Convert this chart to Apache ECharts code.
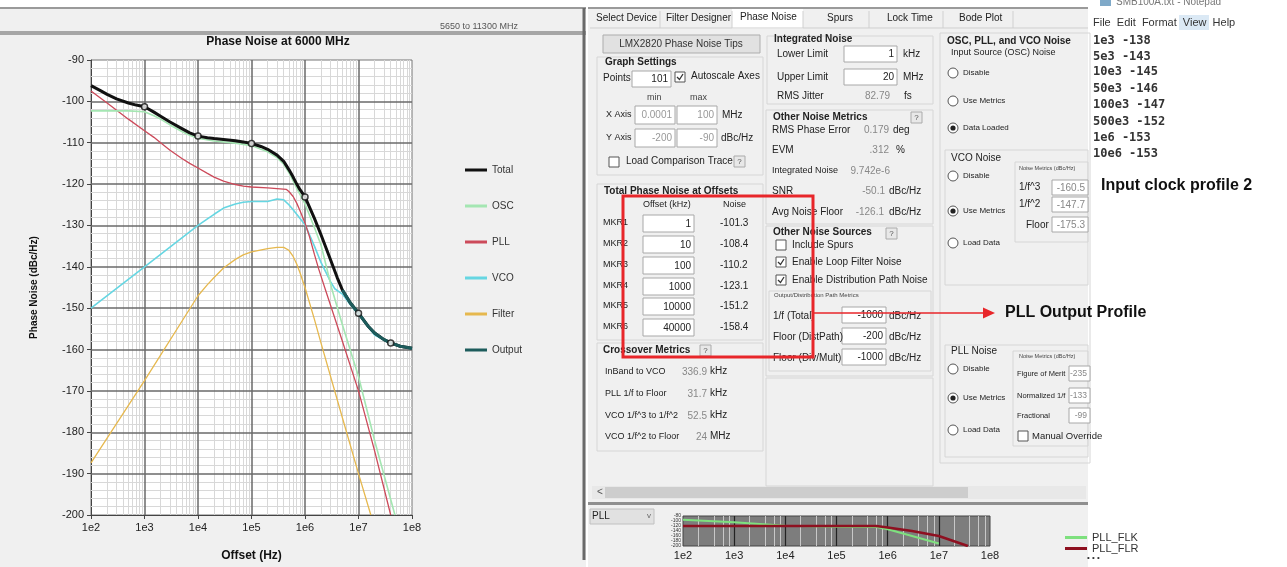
<!DOCTYPE html>
<html><head><meta charset="utf-8">
<script src="https://cdn.jsdelivr.net/npm/echarts@6/dist/echarts.min.js"></script>
<style>html,body{margin:0;padding:0;background:#fff}#c{width:1287px;height:567px}</style>
</head><body><div id="c"></div><script>
// ---------------- data ----------------
const legendNames = ['Total','OSC','PLL','VCO','Filter','Output'];

const totalFreq = [100,150,200,300,500,700,1e3,1.5e3,2e3,3e3,5e3,7e3,1e4,1.5e4,2e4,3e4,5e4,7e4,1e5,1.5e5,2e5,3e5,4e5,5e5,6e5,7e5,8e5,1e6,1.5e6,2e6,3e6,4e6,5e6,7e6,1e7,1.5e7,2e7,3e7,4e7,6e7,1e8];
const totalDb   = [-96.2,-97.4,-98.3,-99.4,-100.4,-100.9,-101.3,-102.6,-103.6,-105.0,-106.6,-107.6,-108.4,-108.8,-109.0,-109.2,-109.5,-109.8,-110.2,-110.9,-111.6,-113.0,-114.5,-116.5,-118.3,-120.0,-121.3,-123.1,-128.3,-132.3,-138.3,-142.6,-145.6,-148.7,-151.2,-154.3,-156.0,-157.6,-158.4,-159.2,-159.7];

const oscFreq = [100,500,1e3,1.5e3,2e3,3e3,5e3,7e3,1e4,2e4,5e4,1e5,2e5,3e5,4e5,5e5,7e5,1e6,1.5e6,2e6,3.2e6,5e6,1e7,2e7,4.8e7];
const oscDb   = [-102.3,-102.3,-102.5,-103.5,-104.3,-105.7,-107.3,-108.2,-108.9,-109.6,-110.1,-110.7,-112.2,-113.6,-115.2,-117.2,-121.0,-124.8,-130.5,-134.8,-145.5,-154.0,-166.5,-182.0,-200];

const pllFreq = [100,200,500,1e3,1.5e3,2e3,3e3,5e3,7e3,1e4,1.5e4,2e4,3e4,5e4,7e4,1e5,2e5,3e5,4.5e5,5e5,6e5,7e5,8e5,1e6,1.2e6,1.5e6,1.8e6,2.4e6,5e6,1e7,2e7,4e7];
const pllDb   = [-97.5,-100.4,-104.3,-107.1,-108.7,-110.0,-111.8,-113.8,-115.0,-116.1,-117.4,-118.3,-119.3,-120.1,-120.5,-120.7,-120.9,-121.1,-121.3,-121.8,-123.0,-124.6,-126.3,-129.4,-132.5,-137.0,-140.5,-145.5,-158.0,-170.0,-184.5,-200];

const vcoFreq = [100,1e3,1e4,1.5e4,2e4,3e4,5e4,7e4,1e5,2e5,3e5,4e5,5e5,6e5,7e5,1e6,1.5e6,2e6,3e6,3.6e6,5e6,7e6,1e7,2e7,4e7,1e8];
const vcoDb   = [-150,-140,-130,-128.4,-127.3,-125.8,-124.8,-124.4,-124.2,-124.2,-123.6,-123.8,-125.0,-126.2,-127.3,-129.8,-135.0,-139.0,-143.6,-145.3,-146.6,-149.1,-151.6,-156.5,-158.6,-159.9];

const filtFreq = [100,1e3,1e4,1.5e4,2e4,3e4,5e4,7e4,1e5,2e5,3e5,4e5,5e5,6e5,7e5,8e5,1e6,1.5e6,2e6,5e6,1e7,1.7e7];
const filtDb   = [-187.4,-167.5,-147.0,-144.3,-142.6,-140.3,-138.2,-137.1,-136.4,-135.6,-135.3,-135.3,-136.0,-137.5,-139.3,-141.3,-145.0,-152.7,-158.5,-176.5,-190.0,-200];

const outFreq = [5e6,7e6,1e7,1.5e7,2e7,3e7,4e7,6e7,1e8];
const outDb   = [-145.6,-148.7,-151.2,-154.3,-156.0,-157.6,-158.4,-159.2,-159.7];

const mkrNames  = ['MKR1','MKR2','MKR3','MKR4','MKR5','MKR6'];
const mkrOffsetKHz = [1,10,100,1000,10000,40000];
const mkrNoise  = [-101.3,-108.4,-110.2,-123.1,-151.2,-158.4];

const notepadLines = ['1e3 -138','5e3 -143','10e3 -145','50e3 -146','100e3 -147','500e3 -152','1e6 -153','10e6 -153'];

const flkFreq = [100,1e3,1e4,1e5,6e5,1e6,2e6,1e7];
const flkDb   = [-95,-105,-119,-123,-124,-133,-150,-190];
const flrFreq = [100,1e5,6e5,1e6,3e6,1e7,3.7e7];
const flrDb   = [-120,-120,-120,-126,-140,-160,-200];

// ---------------- helpers ----------------
const F = '"Liberation Sans", Arial, sans-serif';
const zip = (f, v) => f.map((x, i) => [x, v[i]]);
const G = [];
function R(x,y,w,h,fill,stroke,lw,z){G.push({type:'rect',silent:true,z:(z==null?-10:z),shape:{x:x,y:y,width:w,height:h},style:{fill:fill||'none',stroke:stroke||null,lineWidth:lw||1}});}
function T(x,y,s,o){o=o||{};const font=(o.b?'bold ':'')+(o.s||10)+'px '+(o.f||F);
  G.push({type:'text',silent:true,z:(o.z||20),x:x,y:y,style:{text:s,fill:o.c||'#222',font:font,textAlign:o.a||'left',textVerticalAlign:'middle',align:o.a||'left',verticalAlign:'middle'}});}
function L(x1,y1,x2,y2,c,w,z){G.push({type:'line',silent:true,z:(z==null?5:z),shape:{x1:x1,y1:y1,x2:x2,y2:y2},style:{stroke:c,lineWidth:w||1}});}
function box(x,y,w,h,txt,c,s){R(x,y,w,h,'#fff','#a8a8a8',1,4); T(x+w-3,y+h/2+0.5,txt,{a:'right',c:c||'#222',s:s||10});}
function gbox(x,y,w,h){R(x,y,w,h,'none','#d6d6d6',1,3);}
function cb(x,y,on){R(x,y-5,10,10,'#fff','#555',1,4); if(on){G.push({type:'polyline',silent:true,z:6,shape:{points:[[x+2,y],[x+4.5,y+2.5],[x+8,y-3]]},style:{stroke:'#333',lineWidth:1.3,fill:'none'}});}}
function radio(x,y,on){G.push({type:'circle',silent:true,z:4,shape:{cx:x,cy:y,r:5},style:{fill:'#fff',stroke:'#555',lineWidth:1}}); if(on)G.push({type:'circle',silent:true,z:6,shape:{cx:x,cy:y,r:2.6},style:{fill:'#222'}});}
function q(x,y){R(x,y-5,11,11,'#e8e8e8','#aaa',1,4); T(x+5.5,y+0.5,'?',{a:'center',s:8,c:'#555'});}

// ---------------- left panel frame ----------------
R(0,8,586,559,'#f0f0f0',null,1,-20);
L(0,8,586,8,'#9a9a9a',2,-5);
T(440,27,'5650 to 11300 MHz',{s:9,c:'#555',z:1});
R(0,31,586,4,'#a6a6a6',null,1,2);
L(584,8,584,560,'#6a6a6a',3,2);
T(278,42,'Phase Noise at 6000 MHz',{b:true,s:12,c:'#111',a:'center'});

// ---------------- right GUI ----------------
R(588,8,500,559,'#f0f0f0',null,1,-20);
L(588,8,1088,8,'#9a9a9a',2,-5);
R(732,9,71,20,'#fff',null,1,-5);
[660,732,803,869,943,1013].forEach(x=>L(x,11,x,28,'#d0d0d0',1,-4));
L(590,28,1088,28,'#cfcfcf',1,-4);
T(596,18,'Select Device',{s:10}); T(666,18,'Filter Designer',{s:10}); T(740,17,'Phase Noise',{s:10});
T(827,18,'Spurs',{s:10}); T(887,18,'Lock Time',{s:10}); T(959,18,'Bode Plot',{s:10});

// left column
R(603,35,157,18,'#e1e1e1','#adadad',1,-4); T(681,44,'LMX2820 Phase Noise Tips',{a:'center',s:10,c:'#333'});
gbox(597,57,166,118);
T(605,62,'Graph Settings',{b:true,s:10});
T(603,78,'Points',{s:10}); box(632,71,39,16,'101'); cb(675,77,true); T(691,76,'Autoscale Axes',{s:10});
T(647,98,'min',{s:9,c:'#444'}); T(690,98,'max',{s:9,c:'#444'});
T(606,115,'X Axis',{s:9}); box(635,106,40,18,'0.0001','#999'); box(677,106,40,18,'100','#999'); T(722,115,'MHz',{s:10});
T(606,138,'Y Axis',{s:9}); box(635,129,40,18,'-200','#999'); box(677,129,40,18,'-90','#999'); T(721,138,'dBc/Hz',{s:10});
cb(609,162,false); T(626,161,'Load Comparison Trace',{s:10}); q(734,161);
gbox(597,184,166,156);
T(604,191,'Total Phase Noise at Offsets',{b:true,s:10});
T(643,205,'Offset (kHz)',{s:9}); T(723,205,'Noise',{s:9});
const mkrY = [223,244,265,286,306,327];
mkrNames.forEach((n,i)=>{ T(603,mkrY[i],n,{s:9}); box(643,mkrY[i]-8,51,17,String(mkrOffsetKHz[i])); T(720,mkrY[i],mkrNoise[i].toFixed(1),{s:10}); });
gbox(597,343,166,108);
T(603,350,'Crossover Metrics',{b:true,s:10}); q(700,350);
const xo = [['InBand to VCO','336.9','kHz',372],['PLL 1/f to Floor','31.7','kHz',394],['VCO 1/f^3 to 1/f^2','52.5','kHz',416],['VCO 1/f^2 to Floor','24','MHz',437]];
xo.forEach(r=>{T(605,r[3],r[0],{s:9}); T(707,r[3],r[1],{a:'right',s:10,c:'#888'}); T(710,r[3]-1,r[2],{s:10});});

// middle column
gbox(767,36,166,68);
T(774,39,'Integrated Noise',{b:true,s:10});
T(777,54,'Lower Limit',{s:10}); box(844,46,53,16,'1'); T(903,54,'kHz',{s:10});
T(777,77,'Upper Limit',{s:10}); box(844,69,53,16,'20'); T(903,77,'MHz',{s:10});
T(777,96,'RMS Jitter',{s:10}); T(890,96,'82.79',{a:'right',s:10,c:'#888'}); T(904,96,'fs',{s:10});
gbox(766,110,167,114);
T(773,117,'Other Noise Metrics',{b:true,s:10}); q(911,117);
T(772,130,'RMS Phase Error',{s:10}); T(889,130,'0.179',{a:'right',s:10,c:'#888'}); T(893,130,'deg',{s:10});
T(772,150,'EVM',{s:10}); T(889,150,'.312',{a:'right',s:10,c:'#888'}); T(896,150,'%',{s:10});
T(772,171,'Integrated Noise',{s:9}); T(890,171,'9.742e-6',{a:'right',s:10,c:'#888'});
T(772,191,'SNR',{s:10}); T(885,191,'-50.1',{a:'right',s:10,c:'#888'}); T(889,191,'dBc/Hz',{s:10});
T(772,212,'Avg Noise Floor',{s:10}); T(884,212,'-126.1',{a:'right',s:10,c:'#888'}); T(889,212,'dBc/Hz',{s:10});
gbox(766,226,167,150);
T(773,232,'Other Noise Sources',{b:true,s:10}); q(886,233);
cb(776,245,false); T(792,245,'Include Spurs',{s:10});
cb(776,262,true); T(792,262,'Enable Loop Filter Noise',{s:10});
cb(776,280,true); T(792,280,'Enable Distribution Path Noise',{s:10});
gbox(769,291,162,80);
T(774,295,'Output/Distribution Path Metrics',{s:6,c:'#444'});
T(773,316,'1/f (Total)',{s:10}); box(842,307,44,16,'-1000'); T(889,316,'dBc/Hz',{s:10});
T(773,337,'Floor (DistPath)',{s:10}); box(842,328,44,16,'-200'); T(889,337,'dBc/Hz',{s:10});
T(773,358,'Floor (Div/Mult)',{s:10}); box(842,349,44,16,'-1000'); T(889,358,'dBc/Hz',{s:10});
gbox(766,378,167,108);

// right column
gbox(940,33,150,430);
T(947,41,'OSC, PLL, and VCO Noise',{b:true,s:10});
T(951,53,'Input Source (OSC) Noise',{s:9});
radio(953,73,false); T(963,73,'Disable',{s:8});
radio(953,101,false); T(963,101,'Use Metrics',{s:8});
radio(953,128,true); T(963,128,'Data Loaded',{s:8});
gbox(945,150,143,135);
T(951,158,'VCO Noise',{s:10});
radio(953,176,false); T(963,176,'Disable',{s:8});
radio(953,211,true); T(963,211,'Use Metrics',{s:8});
radio(953,243,false); T(963,243,'Load Data',{s:8});
gbox(1015,162,73,80);
T(1019,168,'Noise Metrics (dBc/Hz)',{s:5.5,c:'#444'});
T(1019,187,'1/f^3',{s:10}); box(1052,180,36,15,'-160.5','#888');
T(1019,204,'1/f^2',{s:10}); box(1052,197,36,15,'-147.7','#888');
T(1026,225,'Floor',{s:10}); box(1052,217,36,15,'-175.3','#888');
gbox(945,345,143,112);
T(951,351,'PLL Noise',{s:10});
radio(953,369,false); T(963,369,'Disable',{s:8});
radio(953,398,true); T(963,398,'Use Metrics',{s:8});
radio(953,430,false); T(963,430,'Load Data',{s:8});
gbox(1013,351,75,95);
T(1019,356,'Noise Metrics (dBc/Hz)',{s:5.5,c:'#444'});
T(1017,374,'Figure of Merit',{s:7.5}); box(1069,366,21,15,'-235','#888',8.5);
T(1017,396,'Normalized 1/f',{s:7.5}); box(1069,388,21,15,'-133','#888',8.5);
T(1017,416,'Fractional',{s:7.5}); box(1069,408,21,15,'-99','#888',8.5);
cb(1018,436,false); T(1032,436,'Manual Override',{s:9.5});

// scrollbar + bottom panel
R(592,486,494,13,'#e8e8e8',null,1,-5); R(605,487,363,11,'#cdcdcd',null,1,-4); T(597,492,'<',{s:10,c:'#555'});
R(588,502,500,3,'#8f8f8f',null,1,2);
R(590,509,64,15,'#e1e1e1','#c0c0c0',1,-4); T(592,516,'PLL',{s:10}); T(647,516,'v',{s:8,c:'#666'});
T(1087,558,'• • •',{s:8,c:'#333'});

// notepad
R(1088,0,199,165,'#fff',null,1,-15);
T(1116,2,'SMB100A.txt - Notepad',{s:10,c:'#777'}); R(1100,-2,11,8,'#7fa9c8',null,1,1);
R(1179,15,30,15,'#dbe9f5',null,1,-4);
T(1093,23,'File  Edit  Format  View  Help',{s:11,c:'#333'});
const npY=[41,57,72,89,105,122,138,154];
notepadLines.forEach((s,i)=>T(1093,npY[i],s,{s:12,b:true,c:'#333',f:'"DejaVu Sans Mono", monospace'}));
T(1101,186,'Input clock profile 2',{b:true,s:16,c:'#111'});

// annotations
R(623,196,190,161,'none','#e8262a',3,30);
L(813,313,985,313,'#e8262a',1.5,30);
G.push({type:'polygon',silent:true,z:31,shape:{points:[[995,313],[983,307.5],[983,318.5]]},style:{fill:'#e8262a'}});
T(1005,313,'PLL Output Profile',{b:true,s:16,c:'#111'});

// ---------------- grid lines via markLine ----------------
const gridLines = [];
for (let d=2; d<8; d++) for (let k=2; k<10; k++) gridLines.push({xAxis:k*Math.pow(10,d),lineStyle:{color:'#d8d8d8',width:1,type:'solid'}});
for (let v=-198; v<-90; v+=2) if (v%10!==0) gridLines.push({yAxis:v,lineStyle:{color:'#d8d8d8',width:1,type:'solid'}});
for (let d=3; d<8; d++) gridLines.push({xAxis:Math.pow(10,d),lineStyle:{color:'#6a6a6a',width:1.5,type:'solid'}});
for (let v=-190; v<=-100; v+=10) gridLines.push({yAxis:v,lineStyle:{color:'#6a6a6a',width:1.5,type:'solid'}});

const smallGrid = [];
for (let d=2; d<8; d++) for (let k=2; k<10; k+=2) smallGrid.push({xAxis:k*Math.pow(10,d),lineStyle:{color:'#c8c8c8',width:1,type:'solid'}});
for (let v=-190; v>-200+120; v+=10) smallGrid.push({yAxis:v,lineStyle:{color:'#cfcfcf',width:1,type:'solid'}});
for (let d=3; d<8; d++) smallGrid.push({xAxis:Math.pow(10,d),lineStyle:{color:'#222',width:1.2,type:'solid'}});

const lbl = v => '1e' + Math.round(Math.log10(v));

const chart = echarts.init(document.getElementById('c'), null, {renderer:'canvas'});
const lineBase = {type:'line', symbol:'none', animation:false, emphasis:{disabled:true}, xAxisIndex:0, yAxisIndex:0, zlevel:1};
chart.setOption({
  animation:false,
  backgroundColor:'#fff',
  grid:[
    {left:91, top:60, width:321, height:456, show:true, backgroundColor:'#fff', borderColor:'#777', borderWidth:1},
    {left:683, top:516, width:307, height:30, show:true, backgroundColor:'#7d7d7d', borderColor:'#444', borderWidth:1}
  ],
  xAxis:[
    {type:'log', gridIndex:0, min:100, max:1e8, logBase:10, splitLine:{show:false},
     axisLine:{show:true, onZero:false, lineStyle:{color:'#444'}}, axisTick:{show:true, length:4, lineStyle:{color:'#444'}},
     axisLabel:{formatter:lbl, fontSize:11, color:'#222', fontFamily:F, margin:7},
     name:'Offset (Hz)', nameLocation:'middle', nameGap:35, nameTextStyle:{fontSize:12, fontWeight:'bold', color:'#111', fontFamily:F}},
    {type:'log', gridIndex:1, min:100, max:1e8, logBase:10, splitLine:{show:false},
     axisLine:{show:false}, axisTick:{show:false},
     axisLabel:{formatter:lbl, fontSize:11, color:'#222', fontFamily:F, margin:4}}
  ],
  yAxis:[
    {type:'value', gridIndex:0, min:-200, max:-90, interval:10, splitLine:{show:false},
     axisLine:{show:true, lineStyle:{color:'#444'}}, axisTick:{show:true, length:4, lineStyle:{color:'#444'}},
     axisLabel:{fontSize:11, color:'#222', fontFamily:F, margin:7},
     name:'Phase Noise (dBc/Hz)', nameLocation:'middle', nameGap:52, nameTextStyle:{fontSize:10, fontWeight:'bold', color:'#111', fontFamily:F}},
    {type:'value', gridIndex:1, min:-200, max:-80, interval:20, splitLine:{show:false},
     axisLine:{show:false}, axisTick:{show:false}, axisLabel:{fontSize:5, color:'#333', margin:2}}
  ],
  legend:[
    {data:legendNames, orient:'vertical', left:460, top:160, itemWidth:22, itemHeight:3, itemGap:26, icon:'rect', selectedMode:false,
     textStyle:{fontSize:10, color:'#333', fontFamily:F}},
    {data:['PLL_FLK','PLL_FLR'], orient:'vertical', left:1060, top:527, itemWidth:22, itemHeight:3, itemGap:0, icon:'rect', selectedMode:false,
     textStyle:{fontSize:11, color:'#333', fontFamily:F}}
  ],
  graphic:{elements:G},
  series:[
    {name:'_grid', type:'line', data:[[100,-200]], symbol:'none', lineStyle:{opacity:0}, z:1, silent:true, animation:false,
     markLine:{silent:true, symbol:['none','none'], label:{show:false}, animation:false, emphasis:{disabled:true}, data:gridLines}},
    Object.assign({}, lineBase, {name:'Filter', data:zip(filtFreq,filtDb), z:3, lineStyle:{color:'#e6b84e', width:1.3}, itemStyle:{color:'#e6b84e'}}),
    Object.assign({}, lineBase, {name:'VCO', data:zip(vcoFreq,vcoDb), z:3, lineStyle:{color:'#66d6e2', width:1.6}, itemStyle:{color:'#66d6e2'}}),
    Object.assign({}, lineBase, {name:'PLL', data:zip(pllFreq,pllDb), z:3, lineStyle:{color:'#cc4a5a', width:1.3}, itemStyle:{color:'#cc4a5a'}}),
    Object.assign({}, lineBase, {name:'OSC', data:zip(oscFreq,oscDb), z:3, lineStyle:{color:'#a4e6b2', width:1.6}, itemStyle:{color:'#a4e6b2'}}),
    Object.assign({}, lineBase, {name:'Total', data:zip(totalFreq,totalDb), z:4, lineStyle:{color:'#111', width:3, join:'round'}, itemStyle:{color:'#111'}}),
    Object.assign({}, lineBase, {name:'Output', data:zip(outFreq,outDb), z:5, lineStyle:{color:'#1d5c5c', width:3, join:'round'}, itemStyle:{color:'#1d5c5c'}}),
    {name:'Markers', type:'scatter', zlevel:1, data:mkrOffsetKHz.map((k,i)=>[k*1000, mkrNoise[i]]), symbol:'circle', symbolSize:6, z:6, animation:false,
     itemStyle:{color:'#fff', borderColor:'#111', borderWidth:1.5}, silent:true},
    {name:'_sgrid', type:'line', xAxisIndex:1, yAxisIndex:1, data:[[100,-200]], symbol:'none', lineStyle:{opacity:0}, z:1, silent:true, animation:false,
     markLine:{silent:true, symbol:['none','none'], label:{show:false}, animation:false, data:smallGrid}},
    {name:'PLL_FLK', type:'line', zlevel:1, xAxisIndex:1, yAxisIndex:1, data:zip(flkFreq,flkDb), symbol:'none', z:3, animation:false, lineStyle:{color:'#7ee07e', width:2}, itemStyle:{color:'#7ee07e'}},
    {name:'PLL_FLR', type:'line', zlevel:1, xAxisIndex:1, yAxisIndex:1, data:zip(flrFreq,flrDb), symbol:'none', z:4, animation:false, lineStyle:{color:'#8e1020', width:2.5}, itemStyle:{color:'#8e1020'}}
  ]
});
</script></body></html>
